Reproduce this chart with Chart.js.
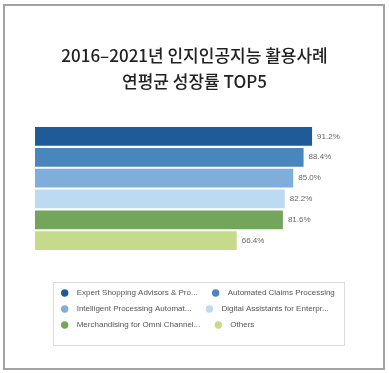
<!DOCTYPE html>
<html>
<head>
<meta charset="utf-8">
<script src="https://cdn.jsdelivr.net/npm/chart.js@4.4.0/dist/chart.umd.min.js"></script>
<style>
  html, body { margin: 0; padding: 0; background: #fff; }
  #wrap { position: relative; width: 389px; height: 373px; }
  #frame {
    position: absolute; left: 3px; top: 4px; width: 382px; height: 366px;
    box-sizing: border-box; border: 2px solid #a3a3a3; pointer-events: none;
  }
  canvas { position: absolute; left: 0; top: 0; }
</style>
</head>
<body>
<div id="wrap">
  <canvas id="growthChart" width="389" height="373"></canvas>
  <div id="frame"></div>
</div>
<script>
// Data
const categories = [
  "Expert Shopping Advisors & Pro...",
  "Automated Claims Processing",
  "Intelligent Processing Automat...",
  "Digital Assistants for Enterpr...",
  "Merchandising for Omni Channel...",
  "Others",
];
const growthRates = [91.2, 88.4, 85.0, 82.2, 81.6, 66.4];
const barColors = ["#1f5b98", "#4a86be", "#7eaed9", "#bcdbf3", "#73a55a", "#c6da8b"];
const titleLines = ["2016–2021년 인지인공지능 활용사례", "연평균 성장률 TOP5"];

const labelFont = "8px 'Liberation Sans', Arial, sans-serif";

// Percent labels at the end of each bar
const valueLabels = {
  id: "valueLabels",
  afterDatasetsDraw(chart) {
    const { ctx } = chart;
    const meta = chart.getDatasetMeta(0);
    ctx.save();
    ctx.font = labelFont;
    ctx.fillStyle = "#666";
    ctx.textAlign = "left";
    ctx.textBaseline = "middle";
    meta.data.forEach((bar, i) => {
      ctx.fillText(growthRates[i].toFixed(1) + "%", bar.x + 5, bar.y);
    });
    ctx.restore();
  },
};

// Boxed legend under the bars
const boxLegend = {
  id: "boxLegend",
  afterDraw(chart) {
    const { ctx } = chart;
    const box = { left: 53, top: 282, right: 344, bottom: 345 };
    ctx.save();
    ctx.strokeStyle = "#dcdcdc";
    ctx.lineWidth = 1;
    ctx.strokeRect(box.left + 0.5, box.top + 0.5, box.right - box.left, box.bottom - box.top);

    ctx.font = labelFont;
    ctx.textAlign = "left";
    ctx.textBaseline = "middle";
    const startX = box.left + 11.7;
    let x = startX;
    let y = box.top + 11;
    categories.forEach((name, i) => {
      const w = ctx.measureText(name).width;
      if (i > 0 && x + 12 + w > box.right) {
        x = startX;
        y += 16;
      }
      ctx.fillStyle = barColors[i];
      ctx.beginPath();
      ctx.arc(x, y, 3.7, 0, Math.PI * 2);
      ctx.fill();
      ctx.fillStyle = "#555";
      ctx.fillText(name, x + 12, y);
      x += 12 + w + 18;
    });
    ctx.restore();
  },
};

const ctx = document.getElementById("growthChart").getContext("2d");
new Chart(ctx, {
  type: "bar",
  data: {
    labels: categories,
    datasets: [
      {
        data: growthRates,
        backgroundColor: barColors,
        barPercentage: 0.9,
        categoryPercentage: 1.0,
      },
    ],
  },
  options: {
    responsive: false,
    animation: false,
    indexAxis: "y",
    layout: { padding: { left: 35, right: 35, top: 0, bottom: 122 } },
    scales: {
      x: { display: false, min: 0, max: 105 },
      y: { display: false },
    },
    plugins: {
      legend: { display: false },
      tooltip: { enabled: false },
      title: {
        display: true,
        text: titleLines,
        color: "#222",
        font: { family: "'Noto Sans CJK KR', sans-serif", size: 17, weight: "500", lineHeight: 1.53 },
        padding: { top: 43, bottom: 31 },
      },
    },
  },
  plugins: [valueLabels, boxLegend],
});
</script>
</body>
</html>
